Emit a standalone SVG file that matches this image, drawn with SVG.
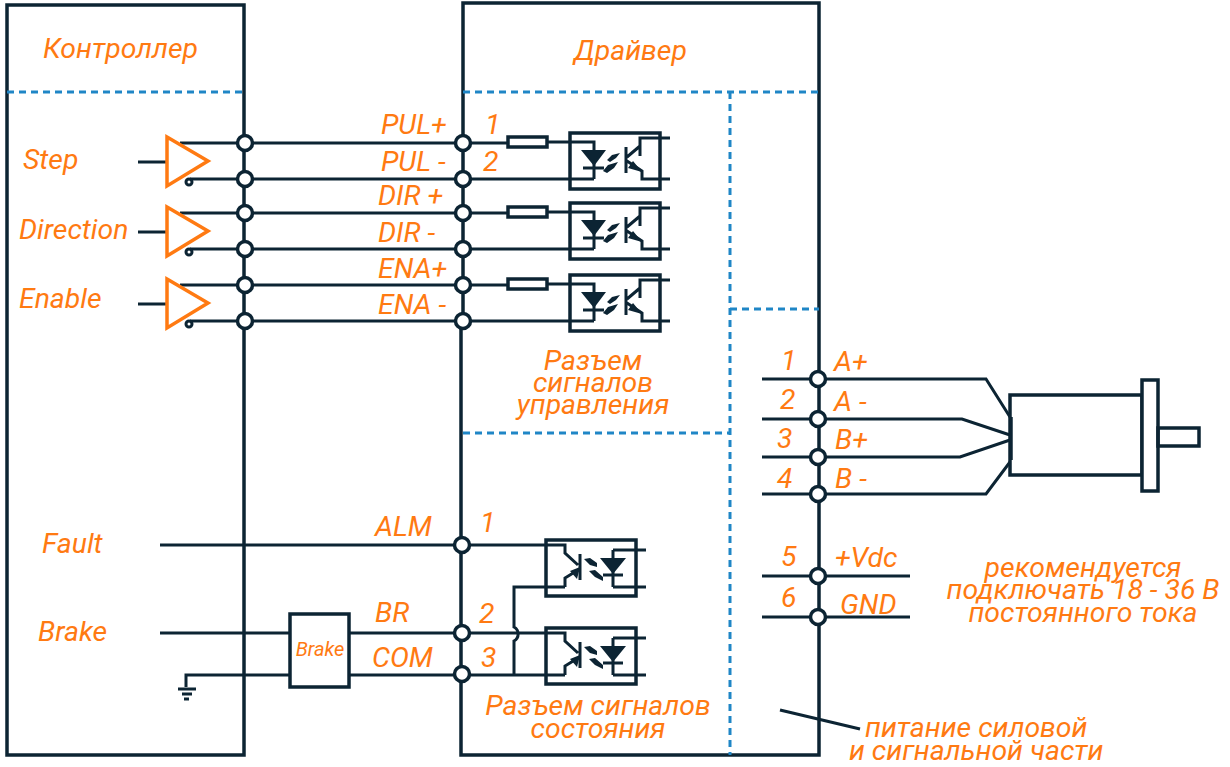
<svg xmlns="http://www.w3.org/2000/svg" xmlns:xlink="http://www.w3.org/1999/xlink" width="1230" height="767" viewBox="0 0 1230 767">
<style>
.w{fill:none;stroke:#0c2433;stroke-width:3}
.b{fill:none;stroke:#0c2433;stroke-width:3.5}
.r{fill:#fff;stroke:#0c2433;stroke-width:3.5}
.f{fill:#0c2433;stroke:none}
.d{fill:none;stroke:#1f86c6;stroke-width:3;stroke-dasharray:7 5}
.n{fill:#fff;stroke:#0c2433;stroke-width:3.5}
.a{fill:none;stroke:#ff7a12;stroke-width:3.5}
text{font-family:Roboto,"Liberation Sans",sans-serif;font-style:italic;fill:#ff7a12;font-size:28.4px}
.m{text-anchor:middle}
</style>
<defs>
<g id="optoIn">
<rect class="b" x="570" y="133" width="90" height="56"/>
<path class="w" d="M570 142H594V179M570 179H594M640 156V138H670M583 168H604M626 147V173M627 157L640 146M627 161L642 171V179H670"/>
<path class="f" d="M581 150H606L594 166ZM633 161L642 172L628 168ZM607 160L612 155L620 153L616 158L610 162ZM603 171L608 165L618 162L614 168L607 173Z"/>
</g>
<g id="optoOut">
<rect class="b" x="546" y="540" width="90" height="56"/>
<path class="w" d="M546 545H565V553L578 565M565 587H546M565 587V578L578 570M580 554V580M613 550V587M613 550H646M613 587H646M603 575H623"/>
<path class="f" d="M600 558H626L613 574ZM570 571L580 567L577 579ZM584 559L590 558L597 563L597 567L590 565ZM589 571L595 570L603 577L603 581L595 577Z"/>
</g>
</defs>
<g id="connectors">
<path class="w" d="M180 143H463M190 179H463M180 213H463M190 249H463M180 285H463M190 321H463"/>
<path class="w" d="M138 162H167M138 232H167M138 304H167"/>
<path class="w" d="M463 143H508M547 142H570M463 179H570M463 213H508M547 212H570M463 249H570M463 285H508M547 284H570M463 321H570"/>
<path class="w" d="M160 545H546M160 633H290M349 633H546M186 687V675H290M349 675H546"/>
<path class="w" d="M546 587H514V627A8 8 0 0 1 514 641V674"/>
<path class="w" d="M762 379H986L1010 417M762 419H962L1010 435M762 457H960L1010 440M762 494H986L1010 462"/>
<path class="w" d="M762 576H910M762 617H910"/>
<path class="w" stroke-width="2" d="M780 710L860 729"/>
</g>
<g id="controller">
<rect class="b" x="7" y="5" width="237" height="750"/>
<path class="d" d="M7 92H244"/>
<text x="43" y="58">Контроллер</text>
</g>
<g id="driver">
<path class="b" d="M463 321V3H819V755H461V321"/>
<path class="d" d="M463 92H819M730 92V755M730 309H819M463 433H730"/>
<text x="574" y="60">Драйвер</text>
</g>
<g id="drivers-in">
<path class="a" d="M167 137L208 161L167 186Z"/>
<path class="a" d="M167 207L208 231L167 256Z"/>
<path class="a" d="M167 279L208 303L167 328Z"/>
<circle class="w" cx="189" cy="182" r="3"/><circle class="w" cx="189" cy="252" r="3"/><circle class="w" cx="189" cy="324" r="3"/>
</g>
<g id="resistors">
<rect class="r" x="508" y="137" width="39" height="10"/>
<rect class="r" x="508" y="207" width="39" height="10"/>
<rect class="r" x="508" y="279" width="39" height="10"/>
</g>
<g id="opto1"><use xlink:href="#optoIn" href="#optoIn"/></g>
<g id="opto2"><use xlink:href="#optoIn" href="#optoIn" y="70"/></g>
<g id="opto3"><use xlink:href="#optoIn" href="#optoIn" y="142"/></g>
<g id="opto4"><use xlink:href="#optoOut" href="#optoOut"/></g>
<g id="opto5"><use xlink:href="#optoOut" href="#optoOut" y="88"/></g>
<g id="brake">
<rect class="r" x="290" y="614" width="59" height="73"/>
<text x="320" y="656" class="m" style="font-size:20px">Brake</text>
</g>
<g id="ground">
<path class="w" d="M178 689H196M182 694H192"/>
<path class="w" d="M184 699H189"/>
</g>
<g id="motor">
<rect class="b" x="1010" y="395" width="132" height="80"/>
<rect class="r" x="1142" y="380" width="16" height="111"/>
<rect class="b" x="1158" y="428" width="41" height="18"/>
<path class="b" d="M1011 417V460"/>
</g>
<g id="nodes">
<circle class="n" cx="245" cy="143" r="7.5"/><circle class="n" cx="245" cy="179" r="7.5"/><circle class="n" cx="245" cy="213" r="7.5"/><circle class="n" cx="245" cy="249" r="7.5"/><circle class="n" cx="245" cy="285" r="7.5"/><circle class="n" cx="245" cy="321" r="7.5"/>
<circle class="n" cx="463" cy="143" r="7.5"/><circle class="n" cx="463" cy="179" r="7.5"/><circle class="n" cx="463" cy="213" r="7.5"/><circle class="n" cx="463" cy="249" r="7.5"/><circle class="n" cx="463" cy="285" r="7.5"/><circle class="n" cx="463" cy="321" r="7.5"/>
<circle class="n" cx="462" cy="545" r="7.5"/><circle class="n" cx="462" cy="633" r="7.5"/><circle class="n" cx="462" cy="674" r="7.5"/>
<circle class="n" cx="818" cy="379" r="7.5"/><circle class="n" cx="818" cy="419" r="7.5"/><circle class="n" cx="818" cy="457" r="7.5"/><circle class="n" cx="818" cy="494" r="7.5"/><circle class="n" cx="818" cy="576" r="7.5"/><circle class="n" cx="818" cy="617" r="7.5"/>
</g>
<g id="labels">
<text x="23" y="169">Step</text><text x="19" y="239">Direction</text><text x="19" y="308">Enable</text><text x="42" y="553">Fault</text><text x="38" y="641">Brake</text>
<text x="381" y="134">PUL+</text><text x="381" y="171">PUL -</text><text x="378" y="205">DIR +</text><text x="378" y="242">DIR -</text><text x="378" y="278">ENA+</text><text x="378" y="314">ENA -</text>
<text x="485" y="134">1</text><text x="483" y="171">2</text>
<text x="593" y="370" class="m">Разъем</text><text x="593" y="392" class="m">сигналов</text><text x="593" y="414" class="m">управления</text>
<text x="375" y="536">ALM</text><text x="375" y="622">BR</text><text x="372" y="667">COM</text>
<text x="480" y="532">1</text><text x="479" y="623">2</text><text x="481" y="667">3</text>
<text x="598" y="715" class="m">Разъем сигналов</text><text x="598" y="738" class="m">состояния</text>
<text x="781" y="370">1</text><text x="780" y="409">2</text><text x="777" y="448">3</text><text x="777" y="488">4</text><text x="781" y="566">5</text><text x="781" y="607">6</text>
<text x="834" y="371">A+</text><text x="834" y="411">A -</text><text x="835" y="449">B+</text><text x="835" y="488">B -</text><text x="835" y="567">+Vdc</text><text x="840" y="614">GND</text>
<text x="1083" y="577" class="m">рекомендуется</text><text x="1083" y="599" class="m">подключать 18 - 36 В</text><text x="1083" y="622" class="m">постоянного тока</text>
<text x="865" y="737">питание силовой</text><text x="849" y="760">и сигнальной части</text>
</g>
</svg>
